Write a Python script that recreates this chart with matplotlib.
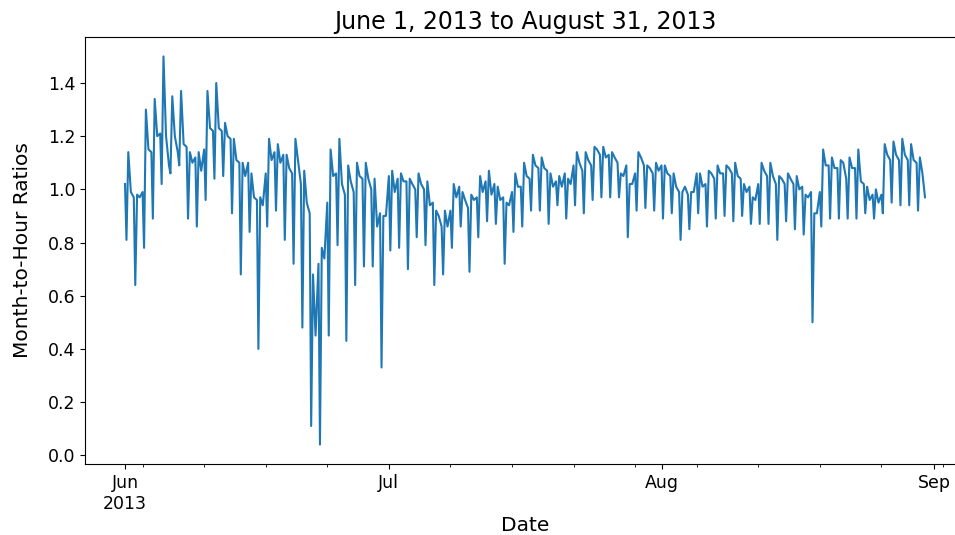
import numpy as np
import pandas as pd
import matplotlib
matplotlib.use("Agg")
import matplotlib.pyplot as plt
import matplotlib.dates as mdates

# Ratios, one row per day (Jun 1 .. Aug 30, 2013)
# pre = value at midnight, dip = early-morning low, peak = morning high, late = afternoon
START = "2013-06-01"
HOURS = [0, 4, 9, 16]

pre = [1.02, 0.97, 0.99, 1.14, 1.21, 1.09, 1.14, 1.16, 1.12, 1.15,
       1.22, 1.22, 1.19, 1.10, 1.10, 0.96, 1.06, 1.14, 1.13, 1.06,
       1.02, 0.91, 0.72, 0.95, 1.06, 0.98, 0.99, 1.04, 1.00, 0.91,
       1.05, 1.04, 1.03, 1.00, 1.00, 0.95, 0.86, 0.92, 1.01, 0.93,
       0.97, 1.03, 1.02, 0.97, 0.99, 1.01, 1.04, 1.08, 1.07, 1.03,
       1.06, 1.09, 1.07, 1.09, 1.13, 1.13, 1.10, 1.09, 1.06, 1.09,
       1.06, 1.09, 1.05, 0.99, 0.98, 1.06, 1.02, 1.04, 1.06, 1.06,
       1.04, 1.01, 1.02, 1.05, 1.02, 1.02, 1.02, 1.01, 0.99, 0.99,
       1.09, 1.08, 1.04, 1.08, 1.02, 0.98, 0.98, 1.11, 1.11, 1.11,
       1.10]
dip = [0.81, 0.64, 0.78, 0.89, 1.02, 1.06, 1.09, 0.89, 0.86, 0.96,
       1.04, 1.05, 0.91, 0.68, 0.84, 0.40, 0.86, 0.92, 0.81, 0.72,
       0.48, 0.11, 0.04, 0.45, 0.79, 0.43, 0.64, 0.71, 0.71, 0.33,
       0.77, 0.78, 0.70, 0.82, 0.79, 0.64, 0.68, 0.78, 0.86, 0.69,
       0.82, 0.88, 0.87, 0.72, 0.84, 0.86, 0.92, 0.92, 0.87, 0.94,
       0.89, 0.94, 0.91, 0.96, 0.97, 0.97, 0.97, 0.82, 0.92, 0.93,
       0.92, 0.89, 0.91, 0.81, 0.85, 0.91, 0.86, 0.89, 0.90, 0.88,
       0.90, 0.87, 0.87, 0.87, 0.81, 0.88, 0.85, 0.83, 0.50, 0.86,
       0.89, 0.89, 0.89, 0.89, 0.91, 0.89, 0.91, 0.95, 0.94, 0.94,
       0.92]
peak = [1.14, 0.98, 1.30, 1.34, 1.50, 1.35, 1.37, 1.14, 1.14, 1.37,
        1.40, 1.25, 1.19, 1.10, 1.06, 0.97, 1.19, 1.17, 1.13, 1.19,
        1.07, 0.68, 0.78, 1.15, 1.19, 1.09, 1.10, 1.10, 1.04, 0.90,
        1.07, 1.06, 1.04, 1.06, 1.03, 0.92, 0.92, 1.02, 0.99, 0.98,
        1.05, 1.07, 1.01, 0.95, 1.06, 1.10, 1.13, 1.12, 1.06, 1.05,
        1.04, 1.14, 1.14, 1.16, 1.16, 1.14, 1.06, 1.02, 1.14, 1.09,
        1.10, 1.09, 1.06, 0.99, 0.99, 1.06, 1.07, 1.09, 1.09, 1.10,
        1.02, 0.97, 1.10, 1.10, 1.05, 1.06, 1.05, 0.98, 0.91, 1.15,
        1.12, 1.11, 1.12, 1.15, 1.01, 1.00, 1.17, 1.18, 1.19, 1.17,
        1.12]
late = [0.99, 0.97, 1.15, 1.20, 1.20, 1.20, 1.17, 1.10, 1.07, 1.23,
        1.23, 1.20, 1.11, 1.05, 0.97, 0.94, 1.11, 1.10, 1.08, 1.11,
        0.95, 0.45, 0.74, 1.05, 1.02, 1.03, 1.05, 1.04, 0.86, 0.90,
        0.99, 1.03, 1.02, 1.02, 0.94, 0.90, 0.86, 0.97, 0.96, 0.96,
        0.99, 0.98, 0.96, 0.94, 1.01, 1.05, 1.09, 1.08, 1.01, 1.01,
        1.02, 1.10, 1.11, 1.15, 1.12, 1.12, 1.05, 1.02, 1.12, 1.08,
        1.07, 1.06, 1.01, 1.01, 0.99, 1.01, 1.06, 1.06, 1.08, 1.05,
        0.99, 0.96, 1.07, 1.05, 1.04, 1.04, 1.00, 0.97, 0.91, 1.09,
        1.08, 1.10, 1.08, 1.03, 0.96, 0.95, 1.13, 1.13, 1.13, 1.11,
        1.06]
LAST_HOUR = 23
LAST_VALUE = 0.97

# Build the series
days = pd.date_range(START, periods=len(dip), freq="D")
times = []
values = []
for i, day in enumerate(days):
    for h, v in zip(HOURS, (pre[i], dip[i], peak[i], late[i])):
        times.append(day + pd.Timedelta(hours=h))
        values.append(v)
times.append(days[-1] + pd.Timedelta(hours=LAST_HOUR))
values.append(LAST_VALUE)
series = pd.Series(values, index=pd.DatetimeIndex(times))

fig = plt.figure(figsize=(9.55, 5.35), dpi=100)
ax = fig.add_axes([85 / 955, 71 / 535, 880 / 955, 427 / 535])
ax.plot(series.index, series.values, color="#1f77b4", linewidth=1.5)

ax.xaxis.set_major_locator(mdates.MonthLocator())
ax.xaxis.set_minor_locator(mdates.WeekdayLocator(byweekday=mdates.MO))


def month_label(x, pos):
    d = mdates.num2date(x)
    if d.month == 6:
        return d.strftime("%b\n%Y")
    return d.strftime("%b")


ax.xaxis.set_major_formatter(plt.FuncFormatter(month_label))
ax.tick_params(axis="both", which="major", labelsize=12.5)
for lab in ax.get_xticklabels():
    lab.set_horizontalalignment("center")

ax.set_xlabel("Date", fontsize=14.5, labelpad=2.5)
ax.set_ylabel("Month-to-Hour Ratios", fontsize=14.5, labelpad=11)
ax.set_title("June 1, 2013 to August 31, 2013", fontsize=17)

fig.savefig("out.png", dpi=100)
